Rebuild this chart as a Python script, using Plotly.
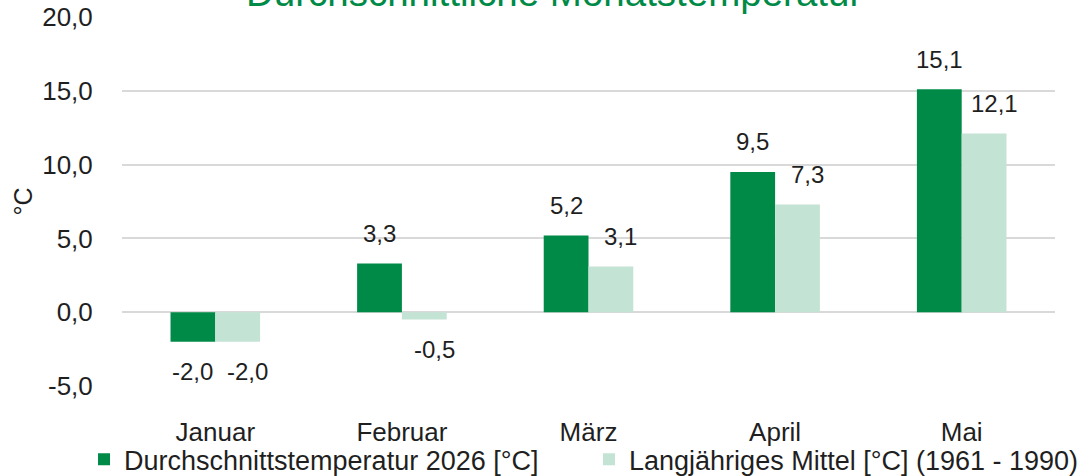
import plotly.graph_objects as go

months = ["Januar", "Februar", "März", "April", "Mai"]
temp_2026 = [-2.0, 3.3, 5.2, 9.5, 15.1]
temp_mean = [-2.0, -0.5, 3.1, 7.3, 12.1]
name_2026 = "Durchschnittstemperatur 2026 [°C]"
name_mean = "Langjähriges Mittel [°C] (1961 - 1990)"
title_text = "Durchschnittliche Monatstemperatur"
y_ticks = [-5, 0, 5, 10, 15, 20]

DARK = "#008A47"
LIGHT = "#C3E3D4"
TXT = "#1F1F1F"
FONT = "Liberation Sans, Arial, sans-serif"


def fmt(v):
    return f"{v:.1f}".replace(".", ",")


fig = go.Figure()
fig.add_trace(go.Bar(x=months, y=temp_2026, name=name_2026, marker_color=DARK,
                     marker_line_width=0))
fig.add_trace(go.Bar(x=months, y=temp_mean, name=name_mean, marker_color=LIGHT,
                     marker_line_width=0))

annotations = []
for i, (a, b) in enumerate(zip(temp_2026, temp_mean)):
    for val, off, xs in ((a, -0.12, 0), (b, 0.12, 10)):
        annotations.append(dict(
            x=i + off, y=val, xref="x", yref="y", text=fmt(val), showarrow=False,
            yshift=30 if val >= 0 else -30, xshift=xs,
            font=dict(family=FONT, size=24, color=TXT)))

annotations.append(dict(
    x=0.4625, y=1.066, xref="paper", yref="paper", text=title_text,
    showarrow=False, xanchor="center", yanchor="middle",
    font=dict(family=FONT, size=38.5, color=DARK)))

fig.update_layout(
    width=1079, height=476,
    margin=dict(l=122, r=24, t=17, b=89.5, autoexpand=False),
    paper_bgcolor="white", plot_bgcolor="white",
    separators=",.",
    barmode="group", bargap=0.52, bargroupgap=0,
    font=dict(family=FONT, size=26, color=TXT),
    showlegend=True,
    legend=dict(orientation="h", xref="paper", x=-0.0407, xanchor="left",
                y=-0.2, yanchor="middle", yref="paper",
                font=dict(family=FONT, size=27, color=TXT),
                itemwidth=30, entrywidth=460, entrywidthmode="pixels",
                tracegroupgap=0, bgcolor="rgba(0,0,0,0)"),
    annotations=annotations,
)
fig.update_yaxes(range=[-5, 20], tickvals=y_ticks,
                 ticktext=[fmt(v) for v in y_ticks],
                 showgrid=True, gridcolor="#D9D9D9", gridwidth=1.5,
                 zeroline=True, zerolinecolor="#D9D9D9", zerolinewidth=1.5,
                 showline=False, ticks="outside", ticklen=23, tickcolor="rgba(0,0,0,0)",
                 tickfont=dict(family=FONT, size=26, color=TXT),
                 title=dict(text="°C", standoff=2, font=dict(family=FONT, size=25, color=TXT)))
fig.update_xaxes(showgrid=False, showline=False, ticks="outside", ticklen=23,
                 tickcolor="rgba(0,0,0,0)",
                 tickfont=dict(family=FONT, size=26, color=TXT))

fig.write_html("out.html", config={"displayModeBar": False},
               post_script="document.body.style.margin='0';")
